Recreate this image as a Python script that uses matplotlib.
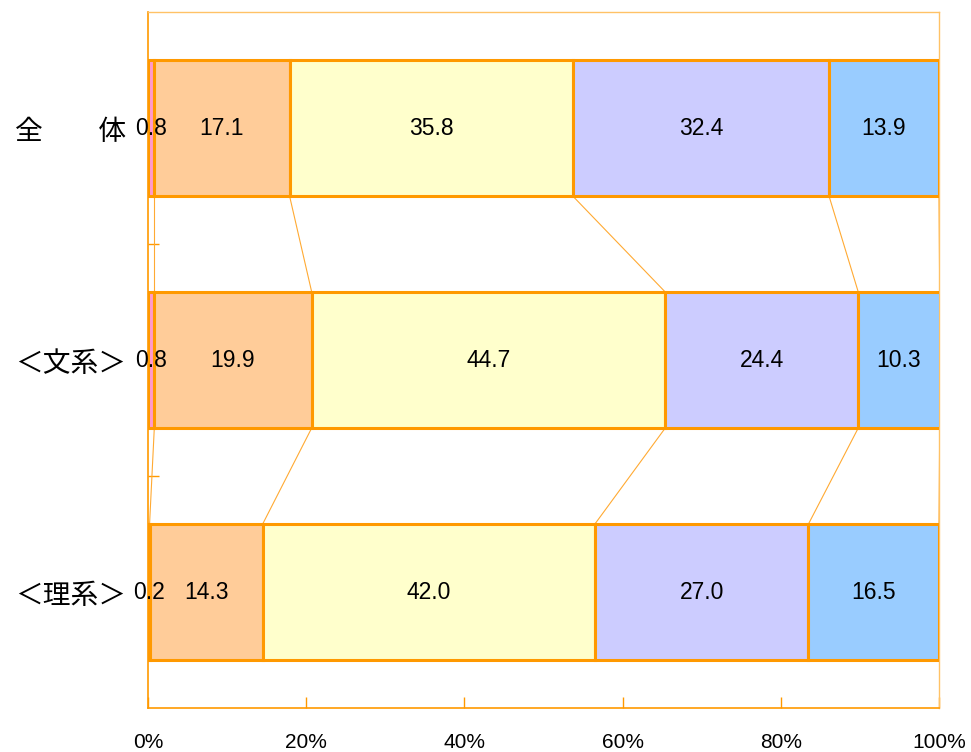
import matplotlib
matplotlib.use("Agg")
import matplotlib.pyplot as plt
import numpy as np

plt.rcParams['font.family'] = ['Noto Sans CJK JP', 'DejaVu Sans']

categories = ["全　　体", "＜文系＞", "＜理系＞"]
series = [
    [0.8, 0.8, 0.2],
    [17.1, 19.9, 14.3],
    [35.8, 44.7, 42.0],
    [32.4, 24.4, 27.0],
    [13.9, 10.3, 16.5],
]
colors = ["#FF99CC", "#FFCC99", "#FFFFCC", "#CCCCFF", "#99CCFF"]
xticks = [0, 20, 40, 60, 80, 100]
xtick_labels = ["0%", "20%", "40%", "60%", "80%", "100%"]

edge = "#FF9900"
bar_h = 0.586
num_font = ["Liberation Sans", "DejaVu Sans"]

fig = plt.figure(figsize=(9.71, 7.52), dpi=100)
ax = fig.add_axes([0.1524, 0.0585, 0.8146, 0.9255])

y = np.arange(len(categories))
left = np.zeros(len(categories))
cum_edges = []
for vals, col in zip(series, colors):
    vals = np.array(vals)
    ax.barh(y, vals, left=left, height=bar_h, color=col, edgecolor=edge,
            linewidth=2.2, zorder=3)
    for yi, (l, v) in enumerate(zip(left, vals)):
        ax.text(l + v / 2, yi, f"{v:.1f}", ha="center", va="center",
                fontsize=16.5, family=num_font, zorder=5)
    left = left + vals
    cum_edges.append(left.copy())

# series lines joining segment boundaries between neighbouring bars
for cum in cum_edges:
    for i in range(len(categories) - 1):
        ax.plot([cum[i], cum[i + 1]], [i + bar_h / 2, i + 1 - bar_h / 2],
                color="#FFAA33", linewidth=0.8, zorder=2)

ax.set_xlim(0, 100)
ax.set_ylim(len(categories) - 0.5, -0.5)
ax.set_xticks(xticks)
ax.set_xticklabels(xtick_labels, fontsize=15, family=num_font)
ax.set_yticks(y)
ax.set_yticklabels(categories, fontsize=20)
ax.set_yticks([0.5, 1.5], minor=True)
ax.tick_params(axis="y", which="major", length=0, pad=16)
ax.tick_params(axis="y", which="minor", length=8, direction="in",
               color=edge, width=1)
ax.tick_params(axis="x", length=8, direction="in", color=edge, width=1,
               pad=18)

for side in ["left", "bottom"]:
    ax.spines[side].set_color(edge)
    ax.spines[side].set_linewidth(1.2)
for side in ["top", "right"]:
    ax.spines[side].set_color("#FFC266")
    ax.spines[side].set_linewidth(1.0)

fig.savefig("out.png", dpi=100)
